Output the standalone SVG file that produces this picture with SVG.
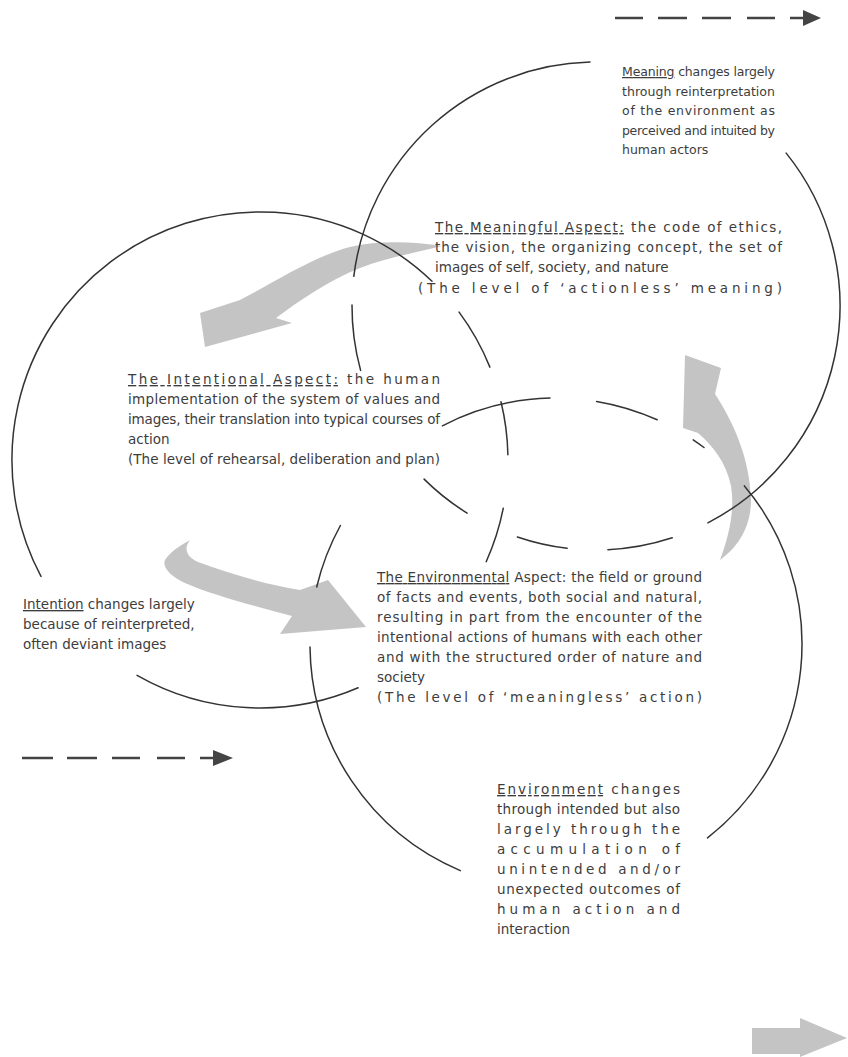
<svg xmlns="http://www.w3.org/2000/svg" width="848" height="1057" viewBox="0 0 848 1057">
<style>
.t{font-family:"DejaVu Sans",Verdana,sans-serif;font-size:13.5px;fill:#3d3d3d}
.s{font-size:12.5px}
.u{text-decoration:underline}
.c{fill:none;stroke:#333;stroke-width:1.5;stroke-linecap:round}
.ga{fill:#c4c4c4}
.d{stroke:#444;stroke-width:2.6;fill:none}
.h{fill:#444}
</style>
<rect width="848" height="1057" fill="#fff"/>
<g id="connectors">
  <path class="ga" d="M442,246 C415,242 380,240 350,247 C312,257 275,282 240,300 L200,313 L205,347 L292,323 L276,318 C300,300 330,280 360,268 C385,258 410,254 442,246 Z"/>
  <path class="ga" d="M190,540 C183,549 187,557 198,562 C230,574 265,584 300,590 L328,580 L366,627 L280,634 L292,616 C255,606 215,596 185,583 C170,576 162,567 165,560 C171,551 181,545 190,540 Z"/>
  <path class="ga" d="M685,355 L721,368 L715,394 C735,425 750,460 751,500 C751,527 738,547 720,560 C729,536 735,510 731,486 C726,462 713,446 698,433 L683,428 Z"/>
  <path class="ga" d="M752,1028 L800,1028 L800,1018 L847,1038 L800,1057 L800,1054 L752,1054 Z"/>
  <path class="d" d="M615,18 H643 M658,18 H687 M702,18 H731 M747,18 H775 M790,18 H806"/>
  <polygon class="h" points="803,10 821,18 803,26"/>
  <path class="d" d="M22,758 H53 M67,758 H97 M112,758 H140 M157,758 H185 M200,758 H215"/>
  <polygon class="h" points="213,750 233,758 213,766"/>
</g>
<g id="meaning-circle">
  <path class="c" d="M353.8,276.3 A244,244 0 0 1 590.0,62.1"/>
  <path class="c" d="M360.6,370.4 A244,244 0 0 1 352.0,305.1"/>
  <path class="c" d="M786.2,153.1 A244,244 0 0 1 707.9,522.8"/>
  <path class="c" d="M672.2,537.8 A244,244 0 0 1 607.9,549.7 M567.1,548.3 A244,244 0 0 1 517.4,537.0 M467.1,513.1 A244,244 0 0 1 424.1,479.1"/>
</g>
<g id="intention-circle">
  <path class="c" d="M41.0,576.4 A248,248 0 0 1 432.0,281.3"/>
  <path class="c" d="M459.1,312.1 A248,248 0 0 1 489.9,367.1 M501.0,401.7 A248,248 0 0 1 507.9,454.8 M503.3,508.2 A248,248 0 0 1 486.2,561.7"/>
  <path class="c" d="M358.1,687.8 A248,248 0 0 1 137.1,675.4"/>
</g>
<g id="environment-circle">
  <path class="c" d="M442.4,425.8 A246,246 0 0 1 550.0,398.1"/>
  <path class="c" d="M596.6,401.4 A246,246 0 0 1 657.2,419.8"/>
  <path class="c" d="M693.2,439.8 A246,246 0 0 1 704.0,447.5"/>
  <path class="c" d="M744.4,485.9 A246,246 0 0 1 707.5,837.9"/>
  <path class="c" d="M460.3,870.6 A246,246 0 0 1 310.0,647.0"/>
  <path class="c" d="M316.7,587.0 A246,246 0 0 1 340.4,525.5"/>
</g>
<g id="meaning-change">
  <text class="t s" x="622" y="76" textLength="153" lengthAdjust="spacing"><tspan class="u">Meaning</tspan> changes largely</text>
  <text class="t s" x="622" y="95.5" textLength="153" lengthAdjust="spacing">through reinterpretation</text>
  <text class="t s" x="622" y="115" textLength="153" lengthAdjust="spacing">of the environment as</text>
  <text class="t s" x="622" y="134.5" textLength="153" lengthAdjust="spacing">perceived and intuited by</text>
  <text class="t s" x="622" y="154">human actors</text>
</g>
<g id="meaningful-aspect">
  <text class="t" x="435" y="232" textLength="347" lengthAdjust="spacing"><tspan class="u">The Meaningful Aspect:</tspan> the code of ethics,</text>
  <text class="t" x="435" y="252" textLength="347" lengthAdjust="spacing">the vision, the organizing concept, the set of</text>
  <text class="t" x="435" y="272">images of self, society, and nature</text>
  <text class="t" x="418" y="293" textLength="364" lengthAdjust="spacing">(The level of ‘actionless’ meaning)</text>
</g>
<g id="intentional-aspect">
  <text class="t" x="128" y="384" textLength="312" lengthAdjust="spacing"><tspan class="u">The Intentional Aspect:</tspan> the human</text>
  <text class="t" x="128" y="404" textLength="312" lengthAdjust="spacing">implementation of the system of values and</text>
  <text class="t" x="128" y="424" textLength="312" lengthAdjust="spacing">images, their translation into typical courses of</text>
  <text class="t" x="128" y="444">action</text>
  <text class="t" x="128" y="464" textLength="312" lengthAdjust="spacing">(The level of rehearsal, deliberation and plan)</text>
</g>
<g id="intention-change">
  <text class="t" x="23" y="609"><tspan class="u">Intention</tspan> changes largely</text>
  <text class="t" x="23" y="629">because of reinterpreted,</text>
  <text class="t" x="23" y="649">often deviant images</text>
</g>
<g id="environmental-aspect">
  <text class="t" x="377" y="582" textLength="325" lengthAdjust="spacing"><tspan class="u">The Environmental</tspan> Aspect: the field or ground</text>
  <text class="t" x="377" y="602" textLength="325" lengthAdjust="spacing">of facts and events, both social and natural,</text>
  <text class="t" x="377" y="622" textLength="325" lengthAdjust="spacing">resulting in part from the encounter of the</text>
  <text class="t" x="377" y="642" textLength="325" lengthAdjust="spacing">intentional actions of humans with each other</text>
  <text class="t" x="377" y="662" textLength="325" lengthAdjust="spacing">and with the structured order of nature and</text>
  <text class="t" x="377" y="682">society</text>
  <text class="t" x="377" y="702" textLength="325" lengthAdjust="spacing">(The level of ‘meaningless’ action)</text>
</g>
<g id="environment-change">
  <text class="t" x="497" y="794" textLength="183" lengthAdjust="spacing"><tspan class="u">Environment</tspan> changes</text>
  <text class="t" x="497" y="814" textLength="183" lengthAdjust="spacing">through intended but also</text>
  <text class="t" x="497" y="834" textLength="183" lengthAdjust="spacing">largely through the</text>
  <text class="t" x="497" y="854" textLength="183" lengthAdjust="spacing">accumulation of</text>
  <text class="t" x="497" y="874" textLength="183" lengthAdjust="spacing">unintended and/or</text>
  <text class="t" x="497" y="894" textLength="183" lengthAdjust="spacing">unexpected outcomes of</text>
  <text class="t" x="497" y="914" textLength="183" lengthAdjust="spacing">human action and</text>
  <text class="t" x="497" y="934">interaction</text>
</g>
</svg>
